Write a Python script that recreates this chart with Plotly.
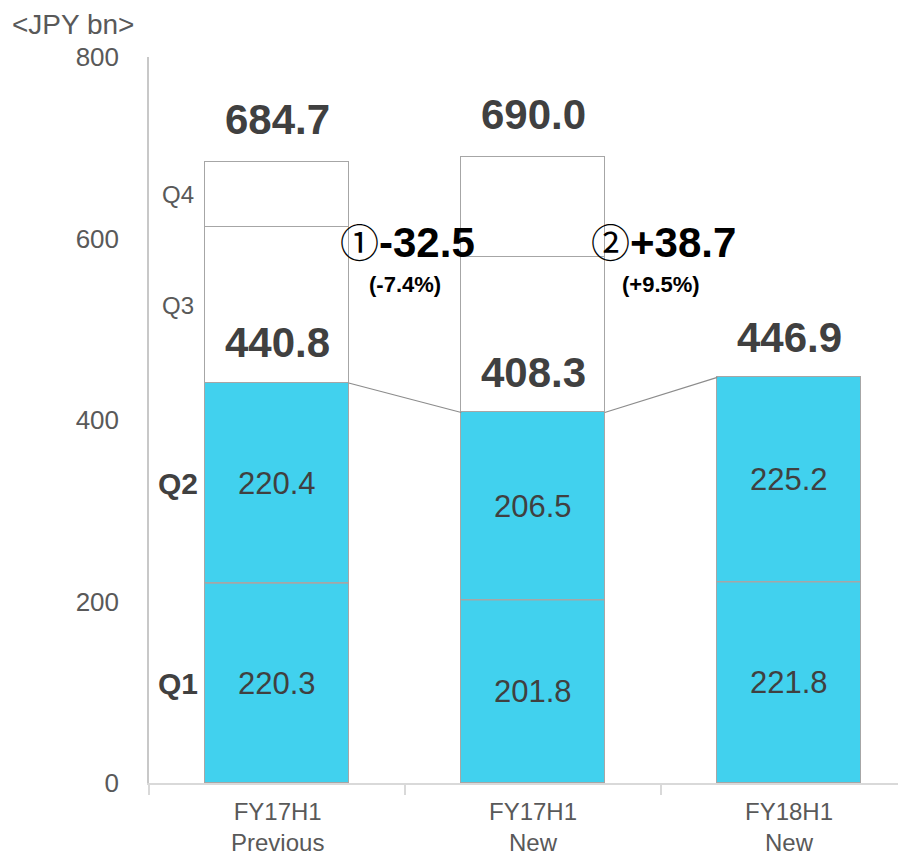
import plotly.graph_objects as go

# ---- data ----
categories = ["FY17H1<br>Previous", "FY17H1<br>New", "FY18H1<br>New"]
q1 = [220.3, 201.8, 221.8]
q2 = [220.4, 206.5, 225.2]
q3 = [171.9, 171.7, None]
q4 = [72.0, 110.0, None]
h1_total = [440.8, 408.3, 446.9]
fy_total = [684.7, 690.0, None]
changes = ["-32.5", "+38.7"]
change_pct = ["(-7.4%)", "(+9.5%)"]
change_marks = ["\u2460", "\u2461"]
y_ticks = [0, 200, 400, 600, 800]

# ---- style ----
CYAN = "#41D1EE"
BORDER = "#A6A6A6"
DARK = "#404040"
GREY = "#595959"
FONT = "Liberation Sans, Arial, sans-serif"
BW = 0.56
x = [0, 1, 2]

fig = go.Figure()
for vals, fill in [(q1, CYAN), (q2, CYAN), (q3, "white"), (q4, "white")]:
    fig.add_trace(go.Bar(
        x=x, y=vals, width=BW, marker=dict(color=fill, line=dict(color=BORDER, width=1.5)),
        hoverinfo="skip", showlegend=False))

ann = []
for i in range(3):
    ann.append(dict(x=i, y=q1[i] / 2, text=f"{q1[i]:.1f}", showarrow=False,
                    font=dict(size=31, color=DARK, family=FONT)))
    ann.append(dict(x=i, y=q1[i] + q2[i] / 2, text=f"{q2[i]:.1f}", showarrow=False,
                    font=dict(size=31, color=DARK, family=FONT)))
    ann.append(dict(x=i, y=h1_total[i], text=f"<b>{h1_total[i]:.1f}</b>", showarrow=False,
                    yshift=40, font=dict(size=42, color=DARK, family=FONT)))
    if fy_total[i] is not None:
        ann.append(dict(x=i, y=fy_total[i], text=f"<b>{fy_total[i]:.1f}</b>", showarrow=False,
                        yshift=42, font=dict(size=42, color=DARK, family=FONT)))
    ann.append(dict(x=i, y=0, yref="paper", yanchor="top", yshift=-13, text=categories[i],
                    showarrow=False, font=dict(size=24, color=GREY, family=FONT)))

qx = -0.5 + 29 / 256
q3_base = q1[0] + q2[0]
ann.append(dict(x=qx, y=q1[0] / 2, text="<b>Q1</b>", showarrow=False,
                font=dict(size=30, color=DARK, family=FONT)))
ann.append(dict(x=qx, y=q1[0] + q2[0] / 2, text="<b>Q2</b>", showarrow=False,
                font=dict(size=30, color=DARK, family=FONT)))
ann.append(dict(x=qx, y=q3_base + q3[0] / 2, text="Q3", showarrow=False,
                font=dict(size=24, color=GREY, family=FONT)))
ann.append(dict(x=qx, y=q3_base + q3[0] + q4[0] / 2, text="Q4", showarrow=False,
                font=dict(size=24, color=GREY, family=FONT)))

chg_x = [0.5, 1.5]
for k in range(2):
    ann.append(dict(x=chg_x[k] + 0.01, y=598, showarrow=False,
                    text=f"<span style='font-family:Noto Sans CJK JP;font-size:39px'>{change_marks[k]}</span><b>{changes[k]}</b>",
                    font=dict(size=42, color="black", family=FONT)))
    ann.append(dict(x=chg_x[k], y=549, showarrow=False, text=f"<b>{change_pct[k]}</b>",
                    font=dict(size=22, color="black", family=FONT)))

ann.append(dict(x=-139 / 757, xref="paper", xanchor="left", y=(783 - 24) / 726, yref="paper",
                yanchor="middle", text="&lt;JPY bn&gt;", showarrow=False,
                font=dict(size=28, color=GREY, family=FONT)))

shapes = []
for i in range(2):
    shapes.append(dict(type="line", xref="x", yref="y",
                       x0=i + BW / 2, y0=h1_total[i], x1=i + 1 - BW / 2, y1=h1_total[i + 1],
                       line=dict(color="#8C8C8C", width=1.2)))
for i in range(3):
    shapes.append(dict(type="line", xref="x", yref="y",
                       x0=i - BW / 2, y0=q1[i], x1=i + BW / 2, y1=q1[i],
                       line=dict(color=BORDER, width=1.5)))

fig.update_layout(
    width=898, height=848,
    margin=dict(l=141, r=0, t=49, b=73),
    barmode="stack", bargap=0,
    plot_bgcolor="white", paper_bgcolor="white",
    annotations=ann, shapes=shapes,
    xaxis=dict(range=[-0.5, -0.5 + 757 / 256], tickmode="array", tickvals=[-0.5, 0.5, 1.5, 2.5],
               ticks="outside", ticklen=10, tickwidth=2, tickcolor="#D9D9D9",
               showticklabels=False, showline=True, linecolor="#D9D9D9", linewidth=2,
               showgrid=False, zeroline=False),
    yaxis=dict(range=[0, 800], tickmode="array", tickvals=y_ticks, ticks="",
               ticklabelstandoff=23, tickfont=dict(size=26, color=GREY, family=FONT),
               showline=True, linecolor="#C8C8C8", linewidth=1.5, showgrid=False, zeroline=False),
)

fig.write_html("out.html")
